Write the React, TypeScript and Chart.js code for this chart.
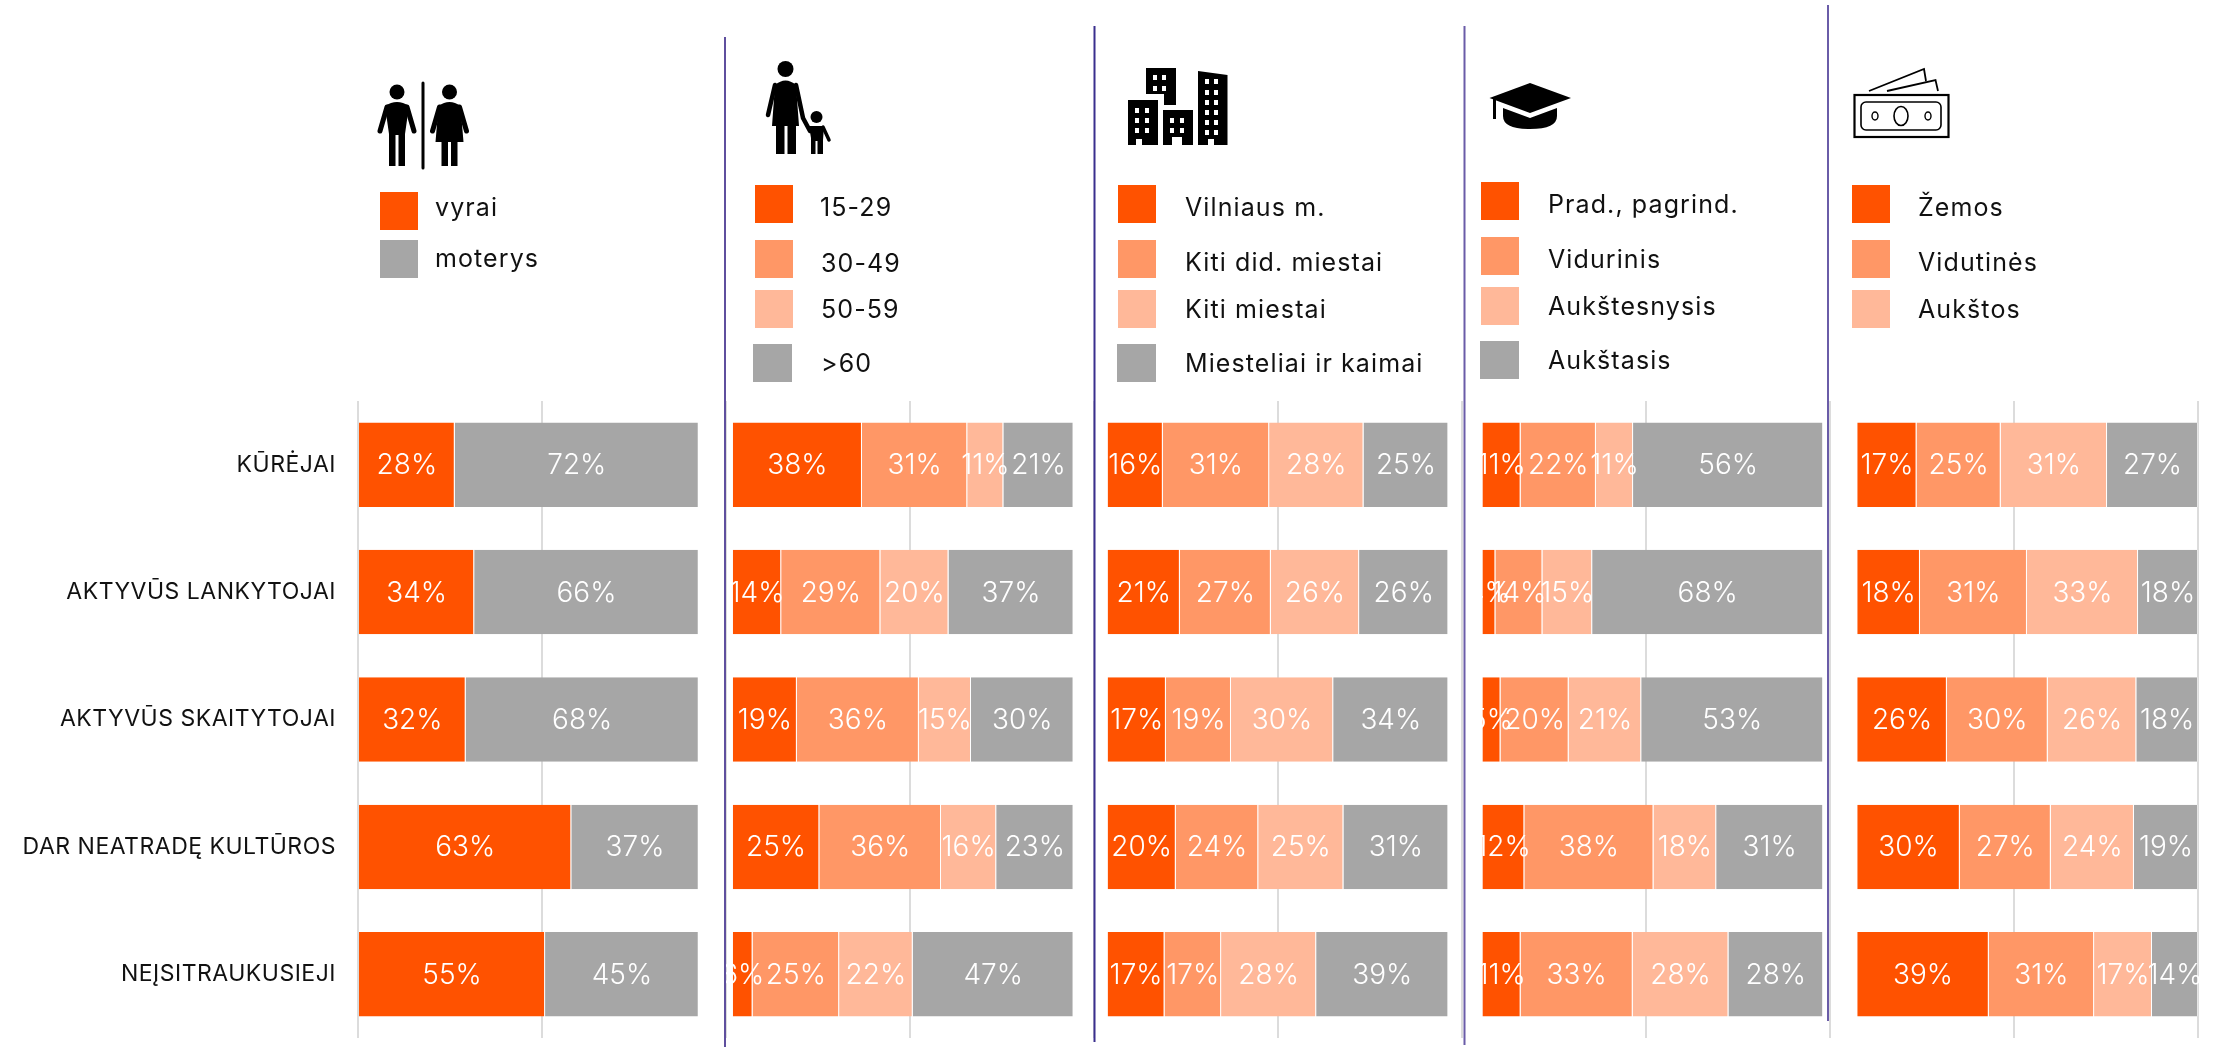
import React, { useEffect, useRef } from "react";
import { Chart, registerables } from "chart.js";

Chart.register(...registerables);

const FONT = "Inter, 'Noto Sans', sans-serif";
const ORANGE = "#FF5200";
const MID = "#FF9766";
const LIGHT = "#FFB899";
const GREY = "#A6A6A6";

const categories = ["KŪRĖJAI", "AKTYVŪS LANKYTOJAI", "AKTYVŪS SKAITYTOJAI", "DAR NEATRADĘ KULTŪROS", "NEĮSITRAUKUSIEJI"];

const vyrai = [28.4, 34.1, 31.6, 62.6, 54.9];
const moterys = [71.6, 65.9, 68.4, 37.4, 45.1];

const age1529 = [37.9, 14.2, 18.8, 25.4, 5.8];
const age3049 = [30.9, 29.1, 35.8, 35.7, 25.4];
const age5059 = [10.6, 20.0, 15.3, 16.2, 21.6];
const age60 = [20.6, 36.7, 30.1, 22.7, 47.2];

const vilnius = [16.2, 21.2, 17.1, 20.0, 16.7];
const didMiestai = [31.2, 26.7, 19.1, 24.2, 16.6];
const kitiMiestai = [27.7, 25.9, 30.0, 25.0, 27.9];
const kaimai = [24.9, 26.2, 33.8, 30.8, 38.8];

const pradinis = [11.2, 3.8, 5.3, 12.3, 11.2];
const vidurinis = [22.1, 13.8, 20.0, 37.9, 32.9];
const aukstesnysis = [10.9, 14.6, 21.3, 18.4, 28.1];
const aukstasis = [55.8, 67.8, 53.4, 31.4, 27.8];

const zemos = [17.4, 18.4, 26.3, 30.1, 38.6];
const vidutines = [24.7, 31.4, 29.6, 26.7, 30.9];
const aukstos = [31.2, 32.6, 26.0, 24.4, 17.0];
const neatsake = [26.7, 17.6, 18.1, 18.8, 13.5];

const gap = [10, 10, 10, 10, 10];

const axisMax = 540;
const axisStep = 54;

const segment = (data: number[], color: string) => ({
  data,
  backgroundColor: color,
  borderColor: "rgba(255,255,255,0.3)",
  borderWidth: { right: 1 },
  borderSkipped: false,
  isGap: false,
});
const spacer = () => ({ data: gap, backgroundColor: "rgba(0,0,0,0)", borderWidth: 0, isGap: true });

const datasets = [
  segment(vyrai, ORANGE), segment(moterys, GREY), spacer(),
  segment(age1529, ORANGE), segment(age3049, MID), segment(age5059, LIGHT), segment(age60, GREY), spacer(),
  segment(vilnius, ORANGE), segment(didMiestai, MID), segment(kitiMiestai, LIGHT), segment(kaimai, GREY), spacer(),
  segment(pradinis, ORANGE), segment(vidurinis, MID), segment(aukstesnysis, LIGHT), segment(aukstasis, GREY), spacer(),
  segment(zemos, ORANGE), segment(vidutines, MID), segment(aukstos, LIGHT), segment(neatsake, GREY),
];

const valueLabels = {
  id: "valueLabels",
  beforeDraw(chart: any) {
    chart.ctx.letterSpacing = "0.5px";
  },
  afterDatasetsDraw(chart: any) {
    const ctx = chart.ctx;
    ctx.save();
    ctx.letterSpacing = "0px";
    ctx.font = `350 28px ${FONT}`;
    ctx.fillStyle = "#FFFFFF";
    ctx.textAlign = "center";
    ctx.textBaseline = "middle";
    chart.data.datasets.forEach((ds: any, i: number) => {
      if (ds.isGap) return;
      chart.getDatasetMeta(i).data.forEach((bar: any, j: number) => {
        ctx.fillText(`${Math.round(ds.data[j])}%`, (bar.x + bar.base) / 2, bar.y + 1);
      });
    });
    ctx.restore();
  },
};

type LegendItem = { c: string; sx: number; sw: number; y: number; t: string; tx: number; ty: number };
const legendItems: LegendItem[] = [
  { c: ORANGE, sx: 380, sw: 38, y: 192, t: "vyrai", tx: 435, ty: 207 },
  { c: GREY, sx: 380, sw: 38, y: 240, t: "moterys", tx: 435, ty: 258 },
  { c: ORANGE, sx: 755, sw: 38, y: 185, t: "15-29", tx: 820, ty: 207 },
  { c: MID, sx: 755, sw: 38, y: 240, t: "30-49", tx: 821, ty: 263 },
  { c: LIGHT, sx: 755, sw: 38, y: 290, t: "50-59", tx: 821, ty: 309 },
  { c: GREY, sx: 753, sw: 39, y: 344, t: ">60", tx: 821, ty: 363 },
  { c: ORANGE, sx: 1118, sw: 38, y: 185, t: "Vilniaus m.", tx: 1185, ty: 207 },
  { c: MID, sx: 1118, sw: 38, y: 240, t: "Kiti did. miestai", tx: 1185, ty: 262 },
  { c: LIGHT, sx: 1118, sw: 38, y: 290, t: "Kiti miestai", tx: 1185, ty: 309 },
  { c: GREY, sx: 1117, sw: 39, y: 344, t: "Miesteliai ir kaimai", tx: 1185, ty: 363 },
  { c: ORANGE, sx: 1481, sw: 38, y: 182, t: "Prad., pagrind.", tx: 1548, ty: 204 },
  { c: MID, sx: 1481, sw: 38, y: 237, t: "Vidurinis", tx: 1548, ty: 259 },
  { c: LIGHT, sx: 1481, sw: 38, y: 287, t: "Aukštesnysis", tx: 1548, ty: 306 },
  { c: GREY, sx: 1480, sw: 39, y: 341, t: "Aukštasis", tx: 1548, ty: 360 },
  { c: ORANGE, sx: 1852, sw: 38, y: 185, t: "Žemos", tx: 1918, ty: 207 },
  { c: MID, sx: 1852, sw: 38, y: 240, t: "Vidutinės", tx: 1918, ty: 262 },
  { c: LIGHT, sx: 1852, sw: 38, y: 290, t: "Aukštos", tx: 1918, ty: 309 },
];

const Man = ({ c }: { c: number }) => (
  <g fill="#000" stroke="none">
    <circle cx={c} cy={92} r={7.5} />
    <path d={`M${c - 12},106 Q${c},98 ${c + 12},106 L${c + 8},134 L${c + 8},166 L${c + 1.5},166 L${c + 1.5},135 L${c - 1.5},135 L${c - 1.5},166 L${c - 8},166 L${c - 8},134 Z`} />
    <path d={`M${c - 10},107 L${c - 17},131 M${c + 10},107 L${c + 17},131`} stroke="#000" strokeWidth={5} strokeLinecap="round" />
  </g>
);
const Woman = ({ c }: { c: number }) => (
  <g fill="#000" stroke="none">
    <circle cx={c} cy={92} r={7.5} />
    <path d={`M${c - 11},106 Q${c},98 ${c + 11},106 L${c + 14},142 L${c + 8},142 L${c + 8},166 L${c + 1.5},166 L${c + 1.5},142 L${c - 1.5},142 L${c - 1.5},166 L${c - 8},166 L${c - 8},142 L${c - 14},142 Z`} />
    <path d={`M${c - 10},107 L${c - 17},131 M${c + 10},107 L${c + 17},131`} stroke="#000" strokeWidth={5} strokeLinecap="round" />
  </g>
);
const Parent = () => (
  <g fill="#000">
    <circle cx={785.5} cy={69} r={8} />
    <path d="M775,85 Q785.5,76 796,85 L799,126 L796,126 L796,154 L787.5,154 L787.5,126 L784.5,126 L784.5,154 L776,154 L776,126 L772,126 Z" />
    <path d="M775,85 L768,115 M796,85 L803,118 L810,131" stroke="#000" strokeWidth={4.5} strokeLinecap="round" fill="none" />
    <circle cx={816.5} cy={117} r={6} />
    <path d="M809,126 L824,126 L823,140 L823,154 L817.5,154 L817.5,141 L815.5,141 L815.5,154 L811,154 L811,138 Z" />
    <path d="M823,127 L829,140" stroke="#000" strokeWidth={3.5} strokeLinecap="round" fill="none" />
  </g>
);
const windowCols = (xs: number[], ys: number[]) =>
  xs.flatMap((x) => ys.map((y) => <rect key={`${x}-${y}`} x={x} y={y} width={4} height={5} fill="#fff" />));
const Buildings = () => (
  <g>
    <rect x={1128} y={100} width={30} height={45} fill="#000" />
    <rect x={1163} y={110} width={30} height={35} fill="#000" />
    <path d="M1146,68 L1176,68 L1176,105 L1164,105 L1164,94 L1146,94 Z" fill="#000" />
    <path d="M1198,71 L1227.5,75 L1227.5,145 L1198,145 Z" fill="#000" />
    {windowCols([1153, 1162], [75, 86])}
    {windowCols([1135, 1145], [108, 118, 128])}
    {windowCols([1170, 1180], [118, 128])}
    {windowCols([1205, 1214], [79, 90, 100, 110, 120, 130])}
    <rect x={1172} y={137} width={10} height={8} fill="#fff" />
    <rect x={1136} y={139} width={6} height={6} fill="#fff" />
    <rect x={1208} y={139} width={6} height={6} fill="#fff" />
  </g>
);
const Cap = () => (
  <g>
    <path d="M1530,83 L1571,98 L1530,113 L1489.5,98 Z" fill="#000" />
    <path d="M1503,108 L1530,118 L1557,108 L1557,116 Q1557,129 1530,129 Q1503,129 1503,116 Z" fill="#000" />
    <path d="M1494.5,99 L1494.5,119" stroke="#000" strokeWidth={3} />
  </g>
);
const Money = () => (
  <g fill="none" stroke="#000">
    <rect x={1854.5} y={95} width={94} height={42} strokeWidth={2.2} />
    <rect x={1861} y={102} width={80} height={28} rx={5} strokeWidth={1.6} />
    <ellipse cx={1901} cy={116} rx={7} ry={9.5} strokeWidth={1.6} />
    <ellipse cx={1875} cy={116} rx={3} ry={4} strokeWidth={1.4} />
    <ellipse cx={1928} cy={116} rx={3} ry={4} strokeWidth={1.4} />
    <path d="M1869,91 L1924,69 L1926,81 M1887,91 L1935.5,80 L1938,91" strokeWidth={1.8} />
  </g>
);

export default function App() {
  const ref = useRef<HTMLCanvasElement>(null);
  useEffect(() => {
    const chart = new Chart(ref.current as HTMLCanvasElement, {
      type: "bar",
      data: { labels: categories, datasets: datasets as any },
      plugins: [valueLabels],
      options: {
        indexAxis: "y",
        animation: false,
        responsive: false,
        layout: { padding: { top: 401, right: 26, bottom: 0, left: 0 } },
        plugins: { legend: { display: false }, tooltip: { enabled: false } },
        datasets: { bar: { barPercentage: 0.663, categoryPercentage: 1 } },
        scales: {
          x: {
            stacked: true,
            min: 0,
            max: axisMax,
            afterFit: (s: any) => { s.height = 9; s.paddingLeft = 0; s.paddingRight = 0; },
            ticks: { display: false, stepSize: axisStep },
            border: { display: false },
            grid: { color: "#DCDCDC", lineWidth: 2, drawTicks: false },
          },
          y: {
            stacked: true,
            afterFit: (s: any) => { s.width = 358; s.paddingTop = 0; s.paddingBottom = 0; },
            border: { display: false },
            grid: { display: false },
            ticks: { color: "#111111", padding: 14, font: { family: FONT, size: 23, weight: "400" } },
          },
        },
      } as any,
    });
    return () => chart.destroy();
  }, []);

  return (
    <div style={{ position: "fixed", left: 0, top: 0, width: 2224, height: 1047, overflow: "hidden", background: "#fff" }}>
      <canvas ref={ref} width={2224} height={1047} style={{ position: "absolute", left: 0, top: 0, display: "block" }} />
      <svg width={2224} height={1047} style={{ position: "absolute", left: 0, top: 0 }}>
        <path d="M725,37 L725,1047" stroke="#5F4F9E" strokeWidth={2} />
        <path d="M1094.5,26 L1094.5,1042" stroke="#3A2F8E" strokeWidth={2} />
        <path d="M1464.5,26 L1464.5,1045" stroke="#6A5CA8" strokeWidth={2} />
        <path d="M1828,5 L1828,1021" stroke="#6A5CA8" strokeWidth={2} />
        <Man c={397} />
        <path d="M423,83 L423,168" stroke="#000" strokeWidth={3} strokeLinecap="round" />
        <Woman c={449.5} />
        <Parent />
        <Buildings />
        <Cap />
        <Money />
      </svg>
      {legendItems.map((it) => (
        <React.Fragment key={it.t}>
          <div style={{ position: "absolute", left: it.sx, top: it.y, width: it.sw, height: 38, background: it.c }} />
          <div
            style={{
              position: "absolute",
              left: it.tx,
              top: it.ty - 15,
              lineHeight: "30px",
              height: 30,
              fontFamily: FONT,
              fontSize: 25,
              color: "#111",
              letterSpacing: "1.1px",
              whiteSpace: "nowrap",
            }}
          >
            {it.t}
          </div>
        </React.Fragment>
      ))}
    </div>
  );
}
